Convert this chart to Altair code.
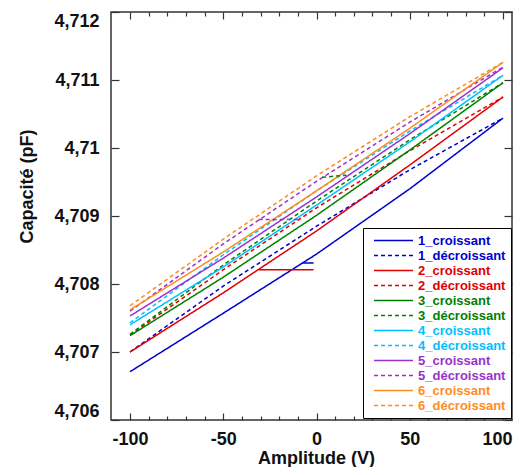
import altair as alt
import pandas as pd

# ---------------- data ----------------
amplitude = [-100, -50, 0, 50, 100]

series_names = [
    "1_croissant", "1_décroissant",
    "2_croissant", "2_décroissant",
    "3_croissant", "3_décroissant",
    "4_croissant", "4_décroissant",
    "5_croissant", "5_décroissant",
    "6_croissant", "6_décroissant",
]
series_colors = [
    "#0000CD", "#0000CD",
    "#E00000", "#E00000",
    "#008000", "#008000",
    "#00BFFF", "#00BFFF",
    "#9932CC", "#9932CC",
    "#FF8C1E", "#FF8C1E",
]

cap_1_croissant = [4.70671, 4.70757, 4.70844, 4.70940, 4.71044]
cap_1_decroissant = [4.70700, 4.70797, 4.70885, 4.70968, 4.71044]
cap_2_croissant = [4.70700, 4.70787, 4.70878, 4.70975, 4.71075]
cap_2_decroissant = [4.70725, 4.70821, 4.70912, 4.70996, 4.71075]
cap_3_croissant = [4.70724, 4.70810, 4.70901, 4.70997, 4.71096]
cap_3_decroissant = [4.70726, 4.70828, 4.70922, 4.71012, 4.71096]
cap_4_croissant = [4.70740, 4.70825, 4.70916, 4.71009, 4.71107]
cap_4_decroissant = [4.70743, 4.70843, 4.70937, 4.71025, 4.71107]
cap_5_croissant = [4.70753, 4.70838, 4.70928, 4.71021, 4.71118]
cap_5_decroissant = [4.70760, 4.70859, 4.70951, 4.71038, 4.71119]
cap_6_croissant = [4.70762, 4.70847, 4.70937, 4.71029, 4.71126]
cap_6_decroissant = [4.70768, 4.70866, 4.70959, 4.71046, 4.71126]

# short stray segments visible in the reference
stray_series = ["1_croissant", "2_croissant", "5_décroissant", "3_décroissant"]
stray_x = [[-7.5, -1.6], [-31, -1.6], [-31, -8.5], [3, 16]]
stray_y = [[4.70831, 4.70831], [4.70821, 4.70821], [4.70895, 4.70895], [4.70957, 4.70960]]

x_major = [-100, -50, 0, 50, 100]
x_minor = [-90, -80, -70, -60, -40, -30, -20, -10, 10, 20, 30, 40, 60, 70, 80, 90]
y_ticks = [4.706, 4.707, 4.708, 4.709, 4.710, 4.711, 4.712]

# ---------------- table ----------------
all_caps = [
    cap_1_croissant, cap_1_decroissant, cap_2_croissant, cap_2_decroissant,
    cap_3_croissant, cap_3_decroissant, cap_4_croissant, cap_4_decroissant,
    cap_5_croissant, cap_5_decroissant, cap_6_croissant, cap_6_decroissant,
]
rows = []
for name, caps in zip(series_names, all_caps):
    for a, c in zip(amplitude, caps):
        rows.append({"amplitude": a, "capacite": c, "series": name, "seg": name + "_main"})
for k, (name, xs, ys) in enumerate(zip(stray_series, stray_x, stray_y)):
    for a, c in zip(xs, ys):
        rows.append({"amplitude": a, "capacite": c, "series": name, "seg": f"{name}_stray{k}"})
df = pd.DataFrame(rows)

FONT = "Liberation Sans"
W, H = 401, 408

x_scale = alt.Scale(domain=[-110.2, 104.8], nice=False, zero=False)
y_scale = alt.Scale(domain=[4.706, 4.712], nice=False, zero=False)
color_scale = alt.Scale(domain=series_names, range=series_colors)
dash_scale = alt.Scale(domain=series_names, range=[[1, 0], [4, 3]] * 6)

legend = alt.Legend(
    orient="none", legendX=252, legendY=216, title=None,
    symbolType="M-3,0H3", symbolSize=169, symbolStrokeWidth=1.5,
    symbolOffset=18, labelOffset=17,
    labelFont=FONT, labelFontSize=13, labelFontWeight="bold",
    labelColor=alt.ExprRef("scale('color', datum.value)"),
    strokeColor="black", fillColor="white", padding=5, rowPadding=0,
    labelLimit=300,
)

base = alt.Chart(df).mark_line(strokeWidth=1.5).encode(
    x=alt.X(
        "amplitude:Q", scale=x_scale,
        axis=alt.Axis(
            orient="bottom", values=x_major, ticks=False, tickSize=0, domain=False, grid=False,
            labelExpr="'' + datum.value",
            labelFlush=10, labelFlushOffset=9,
            labelFont=FONT, labelFontSize=18, labelFontWeight="bold", labelColor="#111111",
            labelPadding=10, labelBaseline="top",
            title="Amplitude (V)", titleFont=FONT, titleFontSize=18, titleFontWeight="bold",
            titleColor="#111111", titleX=205, titleY=38, titleBaseline="middle", titleAlign="center",
        ),
    ),
    y=alt.Y(
        "capacite:Q", scale=y_scale,
        axis=alt.Axis(
            orient="left", values=y_ticks, ticks=False, tickSize=0, domain=False, grid=False,
            labelExpr="replace(format(datum.value, '.3~f'), '.', ',')",
            labelFont=FONT, labelFontSize=18, labelFontWeight="bold", labelColor="#111111",
            labelPadding=12, labelFlush=True,
            title="Capacité (pF)", titleFont=FONT, titleFontSize=18, titleFontWeight="bold",
            titleColor="#111111", titleX=-84, titleY=174, titleAngle=270,
            titleAlign="center", titleBaseline="middle",
        ),
    ),
    color=alt.Color("series:N", scale=color_scale, legend=legend),
    strokeDash=alt.StrokeDash("series:N", scale=dash_scale, legend=legend),
    detail="seg:N",
)


def tick_axis(orient, offset, values, size):
    return alt.Axis(
        orient=orient, offset=offset, values=values, labels=False, domain=False,
        grid=False, title=None, ticks=True, tickSize=size, tickColor="#333333", tickWidth=1.2,
    )


ghost = alt.Chart(df).mark_point(opacity=0, size=1)

# bottom edge (ticks pointing up) and left edge (ticks pointing right)
l1 = ghost.encode(
    x=alt.X("amplitude:Q", scale=x_scale, axis=tick_axis("top", -H, x_major, 7)),
    y=alt.Y("capacite:Q", scale=y_scale, axis=tick_axis("right", -W, y_ticks, 8)),
)
# top edge (ticks pointing down) and right edge (ticks pointing left)
l2 = ghost.encode(
    x=alt.X("amplitude:Q", scale=x_scale, axis=tick_axis("bottom", -H, x_major, 7)),
    y=alt.Y("capacite:Q", scale=y_scale, axis=tick_axis("left", -W, y_ticks, 8)),
)
l3 = ghost.encode(
    x=alt.X("amplitude:Q", scale=x_scale, axis=tick_axis("top", -H, x_minor, 4)),
    y=alt.Y("capacite:Q", scale=y_scale, axis=None),
)
l4 = ghost.encode(
    x=alt.X("amplitude:Q", scale=x_scale, axis=tick_axis("bottom", -H, x_minor, 4)),
    y=alt.Y("capacite:Q", scale=y_scale, axis=None),
)

chart = (
    alt.layer(base, l1, l2, l3, l4)
    .resolve_axis(x="independent", y="independent")
    .properties(
        width=W, height=H,
        autosize=alt.AutoSizeParams(type="none"),
        padding={"left": 103, "top": 4, "right": 1, "bottom": 47},
    )
    .configure_view(stroke="#333333", strokeWidth=1.5)
)

chart.save("out.html", embed_options={"renderer": "svg", "actions": False})
